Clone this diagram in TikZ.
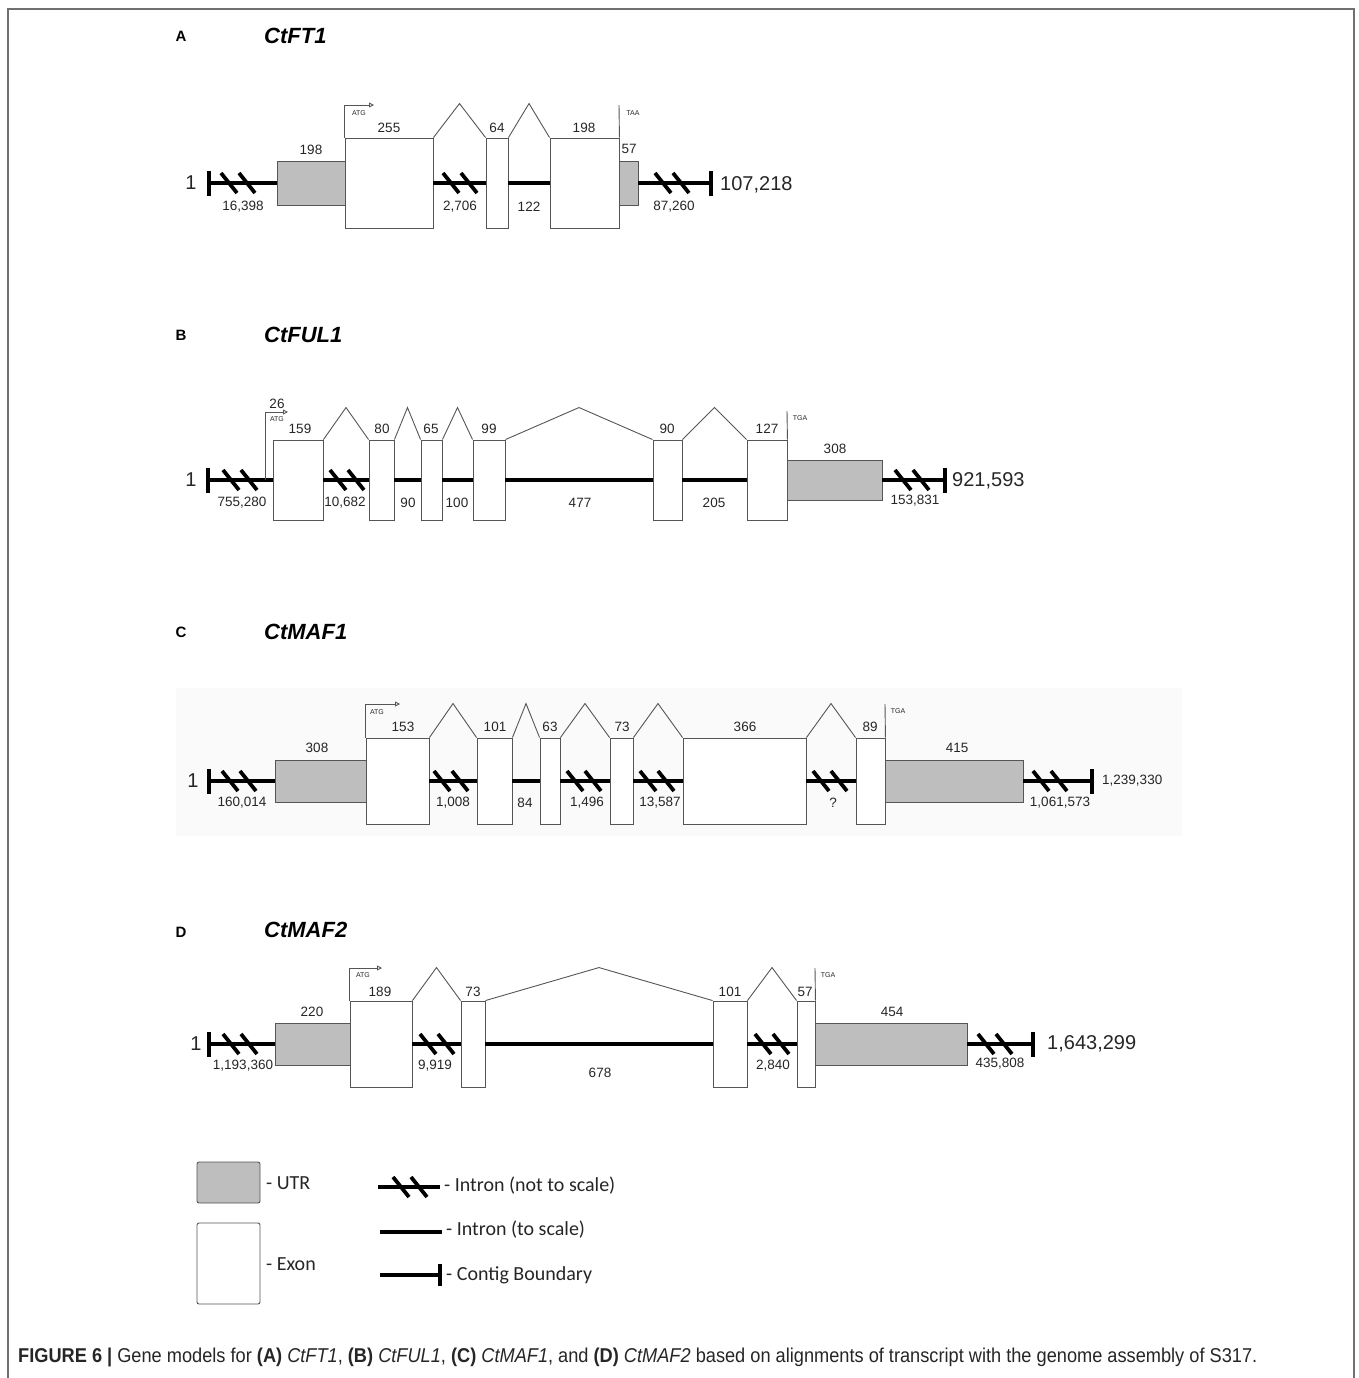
\documentclass[tikz,border=0pt]{standalone}
\usepackage{fontspec}
\setmainfont{Liberation Sans}
\newfontfamily\legendfont{Carlito}
\newfontfamily\capfont[FakeStretch=0.91]{Liberation Sans}
\usetikzlibrary{calc,arrows.meta}
\definecolor{Utr}{HTML}{BEBEBE}
\definecolor{Edge}{HTML}{555555}
\definecolor{Frame}{HTML}{707070}
\definecolor{PaleGrey}{HTML}{FAFAFA}
\definecolor{Ink}{HTML}{262626}

\begin{document}
\begin{tikzpicture}[x=1pt,y=-1pt,
    exonbox/.style={draw=Edge,fill=white,line width=.9pt,inner sep=0pt},
    utrbox/.style={exonbox,fill=Utr},
    intron/.style={line width=3.8pt},
    contig/.style={fill=black,inner sep=0pt,minimum width=4pt,minimum height=25pt},
    splice/.style={draw=Edge,line width=.9pt},
    startmark/.style={splice,-{Triangle[open,length=5pt,width=5pt]}},
    num/.style={font=\fontsize{13.5}{15}\selectfont,text=Ink,inner sep=0pt},
    endnum/.style={font=\fontsize{20}{22}\selectfont,text=Ink,inner sep=0pt},
    codon/.style={font=\fontsize{7}{8}\selectfont,text=Ink,inner sep=0pt},
    panel/.style={font=\fontsize{15}{17}\selectfont\bfseries,inner sep=0pt},
    gene/.style={font=\fontsize{22}{24}\selectfont\bfseries\itshape,anchor=west,inner sep=0pt},
    legtext/.style={font=\legendfont\fontsize{20}{22}\selectfont,text=Ink,anchor=west,inner sep=0pt},
    pics/brk/.style={code={\draw[line width=3.8pt] (-17,-10) -- (-1,10) (1,-10) -- (17,10);}}
  ]
    \useasboundingbox (0,0) rectangle (1358,1378);
    \draw[Frame,line width=1.5pt] (8,1378) -- (8,9) -- (1354,9) -- (1354,1378);

    % A
    \node[panel] (pa) at (181,36) {A};
    \node[gene] (ga) at (264,36) {CtFT1};
    \node[contig] (a0) at (209,183) {};
    \node[utrbox,minimum width=68pt,minimum height=44pt] (a1) at (311,183) {};
    \node[exonbox,minimum width=88pt,minimum height=90pt] (a2) at (389,183) {};
    \node[exonbox,minimum width=22pt,minimum height=90pt] (a3) at (497,183) {};
    \node[exonbox,minimum width=69pt,minimum height=90pt] (a4) at (584.5,183) {};
    \node[utrbox,minimum width=19pt,minimum height=44pt] (a5) at (628.5,183) {};
    \node[contig] (a6) at (711,183) {};
    \draw[intron] (a0) -- (a1);
    \draw[intron] (a2) -- (a3);
    \draw[intron] (a3) -- (a4);
    \draw[intron] (a5) -- (a6);
    \pic at (238,183) {brk};
    \pic at (460,183) {brk};
    \pic at (672,183) {brk};
    \draw[splice] (a2.north east) -- ($(a2.north east)!.5!(a3.north west)+(0,-34)$) -- (a3.north west);
    \draw[splice] (a3.north east) -- ($(a3.north east)!.5!(a4.north west)+(0,-34)$) -- (a4.north west);
    \coordinate (atga) at (374,105);
    \draw[startmark] (a2.north west) |- (atga);
    \node[codon] (ca1) at (359,113) {ATG};
    \coordinate (stopa) at (619,105);
    \draw[splice] (a4.north east) -- (stopa);
    \node[codon] (ca2) at (633,113) {TAA};
    \node[num] (na1) at (311,150) {198};
    \node[num] (na2) at (389,128) {255};
    \node[num] (na3) at (497,128) {64};
    \node[num] (na4) at (584,128) {198};
    \node[num] (na5) at (629,149) {57};
    \node[num] (ia1) at (243,207) {16,398};
    \node[num] (ia2) at (460,207) {2,706};
    \node[num] (ia3) at (529,207) {122};
    \node[num] (ia4) at (674,207) {87,260};
    \node[endnum] (sa) at (191,183) {1};
    \node[endnum,anchor=west] (ea) at (720,185) {107,218};

    % B
    \node[panel] (pb) at (181,335) {B};
    \node[gene] (gb) at (264,335) {CtFUL1};
    \node[contig] (b0) at (208,480) {};
    \node[exonbox,minimum width=50pt,minimum height=80pt] (b1) at (298,480) {};
    \node[exonbox,minimum width=25pt,minimum height=80pt] (b2) at (381.5,480) {};
    \node[exonbox,minimum width=21pt,minimum height=80pt] (b3) at (431.5,480) {};
    \node[exonbox,minimum width=32pt,minimum height=80pt] (b4) at (489,480) {};
    \node[exonbox,minimum width=29pt,minimum height=80pt] (b5) at (667.5,480) {};
    \node[exonbox,minimum width=40pt,minimum height=80pt] (b6) at (767,480) {};
    \node[utrbox,minimum width=95pt,minimum height=40pt] (b7) at (834.5,480) {};
    \node[contig] (b8) at (945,480) {};
    \draw[intron] (b0) -- (b1);
    \draw[intron] (b1) -- (b2);
    \draw[intron] (b2) -- (b3);
    \draw[intron] (b3) -- (b4);
    \draw[intron] (b4) -- (b5);
    \draw[intron] (b5) -- (b6);
    \draw[intron] (b7) -- (b8);
    \pic at (240,480) {brk};
    \pic at (347,480) {brk};
    \pic at (912,480) {brk};
    \draw[splice] (b1.north east) -- ($(b1.north east)!.5!(b2.north west)+(0,-32)$) -- (b2.north west);
    \draw[splice] (b2.north east) -- ($(b2.north east)!.5!(b3.north west)+(0,-32)$) -- (b3.north west);
    \draw[splice] (b3.north east) -- ($(b3.north east)!.5!(b4.north west)+(0,-32)$) -- (b4.north west);
    \draw[splice] (b4.north east) -- ($(b4.north east)!.5!(b5.north west)+(0,-32)$) -- (b5.north west);
    \draw[splice] (b5.north east) -- ($(b5.north east)!.5!(b6.north west)+(0,-32)$) -- (b6.north west);
    \coordinate (tssb) at (265,480);
    \coordinate (atgb) at (288,412);
    \draw[startmark] (tssb) |- (atgb);
    \node[codon] (cb1) at (277,419) {ATG};
    \node[num] (ub) at (277,404) {26};
    \coordinate (stopb) at (787,411);
    \draw[splice] (b6.north east) -- (stopb);
    \node[codon] (cb2) at (800,418) {TGA};
    \node[num] (nb1) at (300,429) {159};
    \node[num] (nb2) at (382,429) {80};
    \node[num] (nb3) at (431,429) {65};
    \node[num] (nb4) at (489,429) {99};
    \node[num] (nb5) at (667,429) {90};
    \node[num] (nb6) at (767,429) {127};
    \node[num] (nb7) at (835,449) {308};
    \node[num] (ib1) at (242,503) {755,280};
    \node[num] (ib2) at (345,503) {10,682};
    \node[num] (ib3) at (408,503) {90};
    \node[num] (ib4) at (457,503) {100};
    \node[num] (ib5) at (580,503) {477};
    \node[num] (ib6) at (714,503) {205};
    \node[num] (ib7) at (915,501) {153,831};
    \node[endnum] (sb) at (191,480) {1};
    \node[endnum,anchor=west] (eb) at (952,481) {921,593};

    % C
    \fill[PaleGrey] (176,688) rectangle (1182,836);
    \node[panel] (pc) at (181,632) {C};
    \node[gene] (gc) at (264,632) {CtMAF1};
    \node[contig] (c0) at (209,781) {};
    \node[utrbox,minimum width=91pt,minimum height=42pt] (c1) at (320.5,781) {};
    \node[exonbox,minimum width=63pt,minimum height=86pt] (c2) at (397.5,781) {};
    \node[exonbox,minimum width=35pt,minimum height=86pt] (c3) at (494.5,781) {};
    \node[exonbox,minimum width=20pt,minimum height=86pt] (c4) at (550,781) {};
    \node[exonbox,minimum width=23pt,minimum height=86pt] (c5) at (621.5,781) {};
    \node[exonbox,minimum width=123pt,minimum height=86pt] (c6) at (744.5,781) {};
    \node[exonbox,minimum width=29pt,minimum height=86pt] (c7) at (870.5,781) {};
    \node[utrbox,minimum width=138pt,minimum height=42pt] (c8) at (954,781) {};
    \node[contig] (c9) at (1092,781) {};
    \draw[intron] (c0) -- (c1);
    \draw[intron] (c2) -- (c3);
    \draw[intron] (c3) -- (c4);
    \draw[intron] (c4) -- (c5);
    \draw[intron] (c5) -- (c6);
    \draw[intron] (c6) -- (c7);
    \draw[intron] (c8) -- (c9);
    \pic at (239,781) {brk};
    \pic at (451,781) {brk};
    \pic at (584,781) {brk};
    \pic at (657,781) {brk};
    \pic at (830,781) {brk};
    \pic at (1050,781) {brk};
    \draw[splice] (c2.north east) -- ($(c2.north east)!.5!(c3.north west)+(0,-34)$) -- (c3.north west);
    \draw[splice] (c3.north east) -- ($(c3.north east)!.5!(c4.north west)+(0,-34)$) -- (c4.north west);
    \draw[splice] (c4.north east) -- ($(c4.north east)!.5!(c5.north west)+(0,-34)$) -- (c5.north west);
    \draw[splice] (c5.north east) -- ($(c5.north east)!.5!(c6.north west)+(0,-34)$) -- (c6.north west);
    \draw[splice] (c6.north east) -- ($(c6.north east)!.5!(c7.north west)+(0,-34)$) -- (c7.north west);
    \coordinate (atgc) at (400,704);
    \draw[startmark] (c2.north west) |- (atgc);
    \node[codon] (cc1) at (377,712) {ATG};
    \coordinate (stopc) at (885,704);
    \draw[splice] (c7.north east) -- (stopc);
    \node[codon] (cc2) at (898,711) {TGA};
    \node[num] (nc1) at (317,748) {308};
    \node[num] (nc2) at (403,727) {153};
    \node[num] (nc3) at (495,727) {101};
    \node[num] (nc4) at (550,727) {63};
    \node[num] (nc5) at (622,727) {73};
    \node[num] (nc6) at (745,727) {366};
    \node[num] (nc7) at (870,727) {89};
    \node[num] (nc8) at (957,748) {415};
    \node[num] (ic1) at (242,803) {160,014};
    \node[num] (ic2) at (453,803) {1,008};
    \node[num] (ic3) at (525,803) {84};
    \node[num] (ic4) at (587,803) {1,496};
    \node[num] (ic5) at (660,803) {13,587};
    \node[num] (ic6) at (833,803) {?};
    \node[num] (ic7) at (1060,803) {1,061,573};
    \node[endnum] (sc) at (193,781) {1};
    \node[num,anchor=west] (ec) at (1102,781) {1,239,330};

    % D
    \node[panel] (pd) at (181,932) {D};
    \node[gene] (gd) at (264,930) {CtMAF2};
    \node[contig] (d0) at (209,1044) {};
    \node[utrbox,minimum width=75pt,minimum height=42pt] (d1) at (312.5,1044) {};
    \node[exonbox,minimum width=62pt,minimum height=86pt] (d2) at (381,1044) {};
    \node[exonbox,minimum width=24pt,minimum height=86pt] (d3) at (473,1044) {};
    \node[exonbox,minimum width=34pt,minimum height=86pt] (d4) at (730,1044) {};
    \node[exonbox,minimum width=18pt,minimum height=86pt] (d5) at (806,1044) {};
    \node[utrbox,minimum width=152pt,minimum height=42pt] (d6) at (891,1044) {};
    \node[contig] (d7) at (1033,1044) {};
    \draw[intron] (d0) -- (d1);
    \draw[intron] (d2) -- (d3);
    \draw[intron] (d3) -- (d4);
    \draw[intron] (d4) -- (d5);
    \draw[intron] (d6) -- (d7);
    \pic at (240,1044) {brk};
    \pic at (437,1044) {brk};
    \pic at (772,1044) {brk};
    \pic at (995,1044) {brk};
    \draw[splice] (d2.north east) -- ($(d2.north east)!.5!(d3.north west)+(0,-33)$) -- (d3.north west);
    \draw[splice] (d3.north east) -- ($(d3.north east)!.5!(d4.north west)+(0,-33)$) -- (d4.north west);
    \draw[splice] (d4.north east) -- ($(d4.north east)!.5!(d5.north west)+(0,-33)$) -- (d5.north west);
    \coordinate (atgd) at (382,968);
    \draw[startmark] (d2.north west) |- (atgd);
    \node[codon] (cd1) at (363,975) {ATG};
    \coordinate (stopd) at (815,968);
    \draw[splice] (d5.north east) -- (stopd);
    \node[codon] (cd2) at (828,975) {TGA};
    \node[num] (nd1) at (312,1012) {220};
    \node[num] (nd2) at (380,992) {189};
    \node[num] (nd3) at (473,992) {73};
    \node[num] (nd4) at (730,992) {101};
    \node[num] (nd5) at (805,992) {57};
    \node[num] (nd6) at (892,1012) {454};
    \node[num] (id1) at (243,1066) {1,193,360};
    \node[num] (id2) at (435,1066) {9,919};
    \node[num] (id3) at (600,1073) {678};
    \node[num] (id4) at (773,1066) {2,840};
    \node[num] (id5) at (1000,1064) {435,808};
    \node[endnum] (sd) at (196,1044) {1};
    \node[endnum,anchor=west] (ed) at (1047,1044) {1,643,299};

    % legend
    \node[utrbox,rounded corners=2pt,minimum width=63pt,minimum height=41pt] (lu) at (228.5,1182.5) {};
    \node[exonbox,rounded corners=2pt,minimum width=63pt,minimum height=81pt] (le) at (228.5,1263.5) {};
    \node[legtext] (tu) at (266,1183) {- UTR};
    \node[legtext] (te) at (266,1264) {- Exon};
    \coordinate (l1a) at (378,1187);
    \coordinate (l1b) at (440,1187);
    \draw[intron] (l1a) -- (l1b);
    \pic at (410,1187) {brk};
    \node[legtext] (t1) at (444,1186) {- Intron (not to scale)};
    \coordinate (l2a) at (380,1232);
    \coordinate (l2b) at (442,1232);
    \draw[intron] (l2a) -- (l2b);
    \node[legtext] (t2) at (446,1230) {- Intron (to scale)};
    \coordinate (l3a) at (380,1275);
    \node[contig,minimum height=22pt] (l3b) at (440,1275) {};
    \draw[intron] (l3a) -- (l3b);
    \node[legtext] (t3) at (446,1275) {- Contig Boundary};

    \node[anchor=west,inner sep=0pt,text=Ink,font=\capfont\fontsize{20}{22}\selectfont] (cap) at (18,1357) {\textbf{FIGURE 6 |} Gene models for \textbf{(A)} \textit{CtFT1}, \textbf{(B)} \textit{CtFUL1}, \textbf{(C)} \textit{CtMAF1}, and \textbf{(D)} \textit{CtMAF2} based on alignments of transcript with the genome assembly of S317.};
  \end{tikzpicture}
\end{document}
